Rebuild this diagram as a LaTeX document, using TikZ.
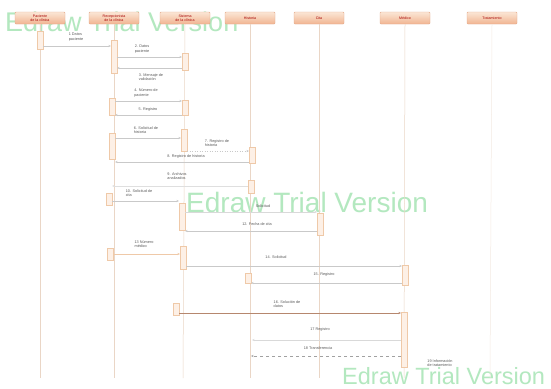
\documentclass[tikz,border=0pt]{standalone}
\usepackage{fontspec}
\setmainfont{Liberation Sans}
\usetikzlibrary{arrows.meta}
\definecolor{wm}{HTML}{B3E8BF}
\definecolor{hdrtop}{HTML}{FBE6D6}
\definecolor{hdrbot}{HTML}{F1B591}
\definecolor{hdrline}{HTML}{E4A98A}
\definecolor{lifec}{HTML}{EAD6C6}
\definecolor{actc}{HTML}{EFC9A8}
\definecolor{msgc}{HTML}{C9C9C9}
\definecolor{txtc}{HTML}{5A5A5A}
\tikzset{
  hdr/.style={draw=hdrline, line width=0.4pt, top color=hdrtop, bottom color=hdrbot,
    rounded corners=1pt, minimum width=50pt, minimum height=12pt, inner sep=0pt,
    align=center, text=red!65!black, font=\fontsize{3.6}{4.2}\selectfont},
  life/.style={draw=lifec, line width=0.5pt},
  act/.style={draw=actc, fill=hdrtop!60, line width=0.5pt, minimum width=6pt, inner sep=0pt},
  msg/.style={draw=msgc, line width=0.5pt, -{Stealth[length=2.5pt,width=2pt]}},
  msgdark/.style={draw=hdrline!80!black, line width=0.6pt, -{Stealth[length=2.5pt,width=2pt]}},
  lbl/.style={text=txtc, font=\fontsize{3.8}{4.4}\selectfont, align=left, inner sep=0pt},
  wmk/.style={text=wm, font=\fontsize{27}{27}\selectfont, anchor=base west, inner sep=0pt}
}
\begin{document}
\begin{tikzpicture}[x=1pt,y=-1pt]
\useasboundingbox (0,0) rectangle (551,388);
\fill[white] (0,0) rectangle (551,388);

% watermarks
\node[wmk] (w1) at (5,31) {Edraw Trial Version};
\node[wmk, font=\fontsize{28}{28}\selectfont] (w2) at (186,212) {Edraw Trial Version};
\node[wmk, font=\fontsize{23.5}{24}\selectfont] (w3) at (342,384) {Edraw Trial Version};

% headers
\node[hdr] (h1) at (40,18) {Paciente\\de la clínica};
\node[hdr] (h2) at (114,18) {Recepcionista\\de la clínica};
\node[hdr] (h3) at (185,18) {Sistema\\de la clínica};
\node[hdr] (h4) at (250,18) {Historia};
\node[hdr] (h5) at (319,18) {Cita};
\node[hdr] (h6) at (405,18) {Médico};
\node[hdr] (h7) at (492,18) {Tratamiento};

% lifeline ends
\coordinate (e1) at (40,378);
\coordinate (e2) at (114,378);
\coordinate (e3) at (183,378);
\coordinate (e4) at (250,378);
\coordinate (e5) at (319,378);
\coordinate (e6) at (404,378);
\coordinate (e7) at (490,378);
\draw[life] (h1.south) -- (e1);
\draw[life] (h2.south) -- (e2);
\draw[life] (h3.south) -- (e3);
\draw[life] (h4.south) -- (e4);
\draw[life] (h5.south) -- (e5);
\draw[life] (h6.south) -- (e6);
\draw[life, draw=lifec!50] (h7.south) -- (e7);

% activations
\node[act, minimum height=18pt] (p1) at (40,40) {};
\node[act, minimum height=33pt] (r1) at (114,57) {};
\node[act, minimum height=17pt] (s1) at (185,62) {};
\node[act, minimum height=17pt] (r2) at (112,107) {};
\node[act, minimum height=15pt] (s2) at (185,108) {};
\node[act, minimum height=26pt] (r3) at (112,146) {};
\node[act, minimum height=22pt] (s3) at (184,140) {};
\node[act, minimum height=16pt] (hi1) at (252,155) {};
\node[act, minimum height=13pt] (hi2) at (251,187) {};
\node[act, minimum height=12pt] (r4) at (109,199) {};
\node[act, minimum height=27pt] (s4) at (182,217) {};
\node[act, minimum height=22pt] (c1) at (320,224) {};
\node[act, minimum height=12pt] (r5) at (110,254) {};
\node[act, minimum height=23pt] (s5) at (183,258) {};
\node[act, minimum height=20pt] (m1) at (405,275) {};
\node[act, minimum height=10pt] (hi3) at (248,278) {};
\node[act, minimum height=12pt] (s6) at (176,309) {};
\node[act, minimum height=55pt] (m2) at (404,340) {};

% message end points
\coordinate (a1) at (43,46);   \coordinate (b1) at (111,46);
\coordinate (a2) at (117,57);  \coordinate (b2) at (182,57);
\coordinate (a3) at (182,68);  \coordinate (b3) at (117,68);
\coordinate (a4) at (115,101); \coordinate (b4) at (182,101);
\coordinate (a5) at (182,115); \coordinate (b5) at (115,115);
\coordinate (a6) at (115,138); \coordinate (b6) at (181,138);
\coordinate (a7) at (187,151); \coordinate (b7) at (249,151);
\coordinate (a8) at (249,162); \coordinate (b8) at (115,162);
\coordinate (a9) at (248,186); \coordinate (b9) at (112,186);
\coordinate (a10) at (112,201); \coordinate (b10) at (179,201);
\coordinate (a11) at (185,212); \coordinate (b11) at (317,212);
\coordinate (a12) at (317,231); \coordinate (b12) at (185,231);
\coordinate (a13) at (113,254); \coordinate (b13) at (180,254);
\coordinate (a14) at (186,266); \coordinate (b14) at (402,266);
\coordinate (a15) at (402,283); \coordinate (b15) at (251,283);
\coordinate (a16) at (179,313); \coordinate (b16) at (401,313);
\coordinate (a17) at (401,340); \coordinate (b17) at (252,340);
\coordinate (a18) at (401,356); \coordinate (b18) at (251,356);

\draw[msg] (a1) -- (b1);
\draw[msg] (a2) -- (b2);
\draw[msg] (a3) -- (b3);
\draw[msg] (a4) -- (b4);
\draw[msg] (a5) -- (b5);
\draw[msg] (a6) -- (b6);
\draw[msg, dotted] (a7) -- (b7);
\draw[msg] (a8) -- (b8);
\draw[msg, draw=msgc!60] (a9) -- (b9);
\draw[msg] (a10) -- (b10);
\draw[msg, draw=msgc!70] (a11) -- (b11);
\draw[msg] (a12) -- (b12);
\draw[msgdark, draw=actc] (a13) -- (b13);
\draw[msg] (a14) -- (b14);
\draw[msg] (a15) -- (b15);
\draw[msgdark] (a16) -- (b16);
\draw[msg, draw=msgc!70] (a17) -- (b17);
\draw[msg, dashed, draw=msgc!80!black] (a18) -- (b18);

% labels
\node[lbl] (l1) at (76,37) {1 Datos\\paciente};
\node[lbl] (l2) at (142,49) {2. Datos\\paciente};
\node[lbl] (l3) at (151,77) {3. Mensaje de\\validación};
\node[lbl] (l4) at (146,93) {4. Número de\\paciente};
\node[lbl] (l5) at (148,110) {5. Registro};
\node[lbl] (l6) at (146,130) {6. Solicitud de\\historia};
\node[lbl] (l7) at (217,143) {7. Registro de\\historia};
\node[lbl] (l8) at (186,157) {8. Registro de historia};
\node[lbl] (l9) at (177,176) {9. Archivos\\analizados};
\node[lbl] (l10) at (139,193) {10. Solicitud de\\cita};
\node[lbl] (l11) at (263,206) {Solicitud};
\node[lbl] (l12) at (257,224) {12. Fecha de cita};
\node[lbl] (l13) at (144,244) {13 Número\\médico};
\node[lbl] (l14) at (276,257) {14. Solicitud};
\node[lbl] (l15) at (324,275) {15. Registro};
\node[lbl] (l16) at (287,304) {16. Solución de\\datos};
\node[lbl] (l17) at (320,330) {17 Registro};
\node[lbl] (l18) at (318,348) {18 Transferencia};
\node[lbl] (l19) at (440,363) {19 Información\\de tratamiento};
\end{tikzpicture}
\end{document}
